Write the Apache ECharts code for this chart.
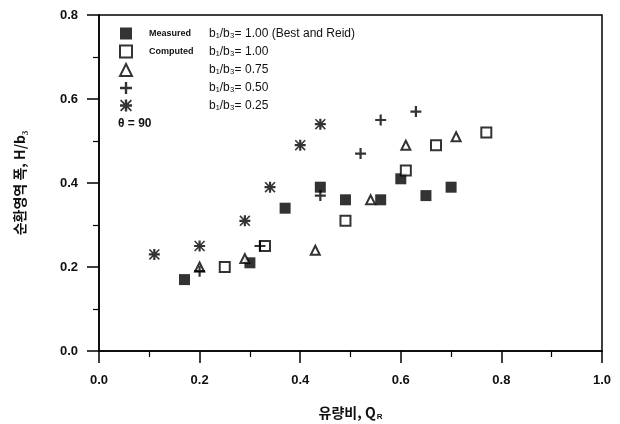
<!DOCTYPE html>
<html>
<head>
<meta charset="utf-8">
<script src="https://cdn.jsdelivr.net/npm/echarts@6/dist/echarts.min.js"></script>
<style>
  html, body { margin: 0; padding: 0; background: #fff; }
  #chart { width: 620px; height: 424px; }
</style>
</head>
<body>
<div id="chart"></div>
<script>
// data: [Q_R, H/b3]
var measured = [[0.17, 0.17], [0.30, 0.21], [0.37, 0.34], [0.44, 0.39], [0.49, 0.36],
                [0.56, 0.36], [0.60, 0.41], [0.65, 0.37], [0.70, 0.39]];
var comp100 = [[0.25, 0.20], [0.33, 0.25], [0.49, 0.31], [0.61, 0.43], [0.67, 0.49], [0.77, 0.52]];
var comp075 = [[0.20, 0.20], [0.29, 0.22], [0.43, 0.24], [0.54, 0.36], [0.61, 0.49], [0.71, 0.51]];
var comp050 = [[0.20, 0.19], [0.32, 0.25], [0.44, 0.37], [0.52, 0.47], [0.56, 0.55], [0.63, 0.57]];
var comp025 = [[0.11, 0.23], [0.20, 0.25], [0.29, 0.31], [0.34, 0.39], [0.40, 0.49], [0.44, 0.54]];

var seriesNames = ['Measured', 'Computed', 'c075', 'c050', 'c025'];
var legendLeft = ['Measured', 'Computed', '', '', ''];
var legendRight = ['b\u2081/b\u2083= 1.00 (Best and Reid)', 'b\u2081/b\u2083= 1.00',
                   'b\u2081/b\u2083= 0.75', 'b\u2081/b\u2083= 0.50', 'b\u2081/b\u2083= 0.25'];

var plusPath = 'path://M4,0h2v10h-2zM0,4h10v2h-10z';
var starPath = 'path://M4,0h2v10h-2zM0,4h10v2h-10zM1,0L5,4L9,0L10,1L6,5L10,9L9,10L5,6L1,10L0,9L4,5L0,1Z';

var chart = echarts.init(document.getElementById('chart'));

var axisFont = { fontFamily: 'Liberation Sans', fontWeight: 'bold', fontSize: 13, color: '#111' };
var nameFont = { fontFamily: 'Noto Sans CJK KR', fontWeight: 'bold', fontSize: 14, color: '#111' };

var option = {
    backgroundColor: '#fff',
    animation: false,
    grid: {
        left: 99, right: 18, top: 15, bottom: 73,
        outerBoundsMode: 'none',
        show: true, borderColor: '#000', borderWidth: 1.5
    },
    xAxis: {
        type: 'value', min: 0, max: 1, interval: 0.2,
        name: '{n|유량비, Q}{s|R}', nameLocation: 'middle', nameGap: 54,
        nameTextStyle: {
            rich: {
                n: nameFont,
                s: { fontFamily: 'Liberation Sans', fontWeight: 'bold', fontSize: 8, color: '#111', padding: [8, 0, 0, 1] }
            }
        },
        axisLine: { lineStyle: { color: '#000', width: 1.5 } },
        axisTick: { length: 12, lineStyle: { color: '#000', width: 1.5 } },
        minorTick: { show: true, splitNumber: 2, length: 6, lineStyle: { color: '#000', width: 1.2 } },
        splitLine: { show: false },
        axisLabel: Object.assign({ margin: 23, formatter: function (v) { return v.toFixed(1); } }, axisFont)
    },
    yAxis: {
        type: 'value', min: 0, max: 0.8, interval: 0.2,
        name: '순환영역 폭, H/b\u2083', nameLocation: 'middle', nameGap: 72,
        nameTextStyle: nameFont,
        axisLine: { lineStyle: { color: '#000', width: 1.5 } },
        axisTick: { length: 12, lineStyle: { color: '#000', width: 1.5 } },
        minorTick: { show: true, splitNumber: 2, length: 6, lineStyle: { color: '#000', width: 1.2 } },
        splitLine: { show: false },
        axisLabel: Object.assign({ margin: 21, formatter: function (v) { return v.toFixed(1); } }, axisFont)
    },
    legend: {
        orient: 'vertical', left: 119, top: 27, padding: 0,
        itemWidth: 12, itemHeight: 12, itemGap: 4.5,
        data: seriesNames,
        formatter: function (name) {
            var i = seriesNames.indexOf(name);
            return '{a|' + legendLeft[i] + '}{b|' + legendRight[i] + '}';
        },
        textStyle: {
            lineHeight: 13,
            rich: {
                a: { width: 60, padding: [0, 0, 0, 12], fontFamily: 'Liberation Sans', fontWeight: 'bold', fontSize: 9, color: '#111', lineHeight: 13 },
                b: { fontFamily: 'Liberation Sans', fontSize: 12, color: '#111', lineHeight: 13 }
            }
        }
    },
    graphic: [{
        type: 'text', left: 118, top: 118,
        style: { text: '\u03B8 = 90', font: 'bold 12px "Liberation Sans"', fill: '#111' }
    }],
    series: [
        {
            name: seriesNames[0], type: 'scatter', data: measured,
            symbol: 'rect', symbolSize: 11, itemStyle: { color: '#000' }
        },
        {
            name: seriesNames[1], type: 'scatter', data: comp100,
            symbol: 'rect', symbolSize: 10,
            itemStyle: { color: '#fff', borderColor: '#000', borderWidth: 2 }
        },
        {
            name: seriesNames[2], type: 'scatter', data: comp075,
            symbol: 'triangle', symbolSize: 9,
            itemStyle: { color: '#fff', borderColor: '#000', borderWidth: 2 }
        },
        {
            name: seriesNames[3], type: 'scatter', data: comp050,
            symbol: plusPath, symbolSize: 11, itemStyle: { color: '#000' }
        },
        {
            name: seriesNames[4], type: 'scatter', data: comp025,
            symbol: starPath, symbolSize: 11, itemStyle: { color: '#000' }
        }
    ]
};

chart.setOption(option);
</script>
</body>
</html>
